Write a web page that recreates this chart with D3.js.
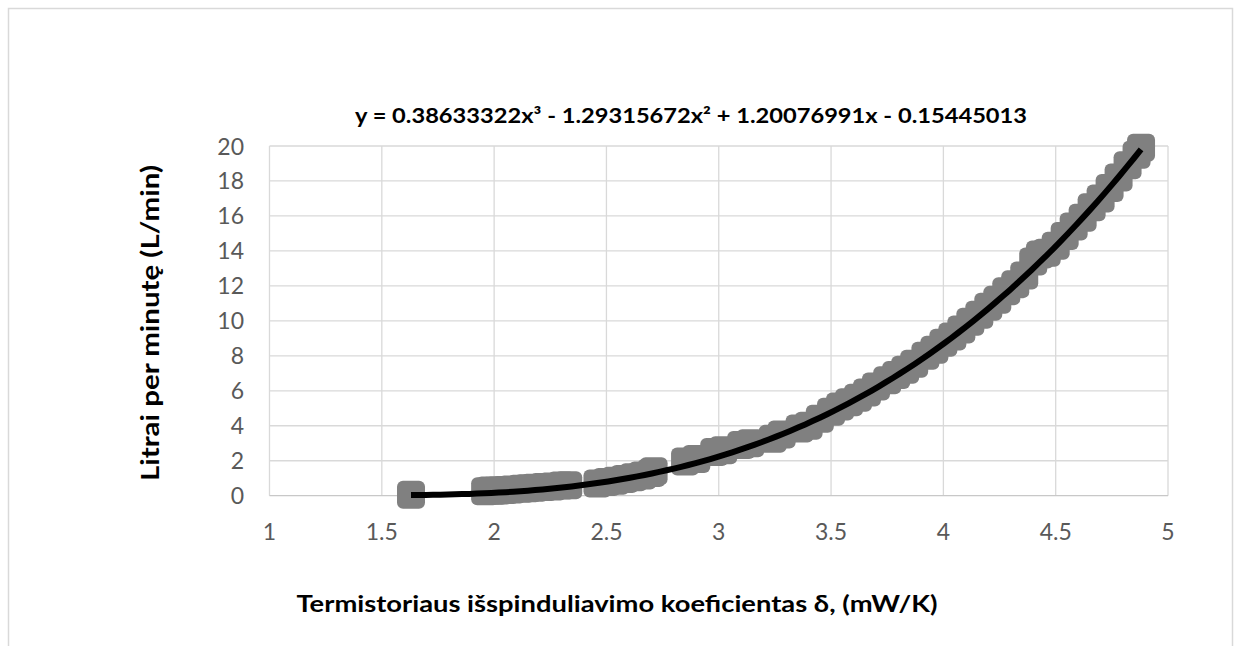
<!DOCTYPE html>
<html><head><meta charset="utf-8">
<script src="https://cdn.jsdelivr.net/npm/d3@7"></script>
<style>
html,body{margin:0;padding:0;background:#fff;}
svg{display:block;font-family:Lato,"Open Sans",sans-serif;}
</style></head>
<body><svg id="c" width="1240" height="646"></svg>
<script>
const xValues = [1.63,1.96,1.98,2.00,2.02,2.05,2.08,2.12,2.15,2.18,2.22,2.26,2.30,2.33,
 2.46,2.50,2.54,2.58,2.62,2.66,2.70,2.71,2.85,2.90,2.98,3.02,3.10,3.14,3.24,3.28,3.36,3.40,
 3.45,3.50,3.54,3.58,3.62,3.66,3.70,3.75,3.79,3.83,3.87,3.92,3.96,4.00,4.04,4.08,4.12,4.16,
 4.20,4.24,4.28,4.32,4.36,4.40,4.43,4.46,4.50,4.54,4.58,4.62,4.66,4.70,4.74,4.78,4.82,4.86,4.88];
const yValues = [0.05,0.25,0.3,0.28,0.3,0.32,0.35,0.4,0.42,0.45,0.5,0.52,0.58,0.6,
 0.7,0.78,0.85,0.95,1.05,1.15,1.3,1.4,1.95,2.1,2.5,2.6,2.9,3.0,3.25,3.5,3.85,4.0,
 4.4,4.8,5.1,5.35,5.6,5.9,6.25,6.6,6.9,7.2,7.55,8.0,8.35,8.75,9.1,9.5,9.95,10.35,
 10.8,11.2,11.7,12.1,12.6,13.4,13.8,13.9,14.3,14.85,15.4,15.9,16.5,17.0,17.6,18.2,18.9,19.5,19.9];
// trendline coefficients as shown in the chart: a3, a2, a1, a0
const trendCoefficients = [0.38633322, -1.29315672, 1.20076991, -0.15445013];
const xTicks = [1,1.5,2,2.5,3,3.5,4,4.5,5];
const yTicks = [0,2,4,6,8,10,12,14,16,18,20];
const titleText = "y = 0.38633322x³ - 1.29315672x² + 1.20076991x - 0.15445013";
const xTitle = "Termistoriaus išspinduliavimo koeficientas δ, (mW/K)";
const yTitle = "Litrai per minutę (L/min)";

const svg = d3.select("#c");
svg.append("rect").attr("x",8.5).attr("y",8.5).attr("width",1224).attr("height",700)
  .attr("fill","#fff").attr("stroke","#d9d9d9").attr("stroke-width",1.5);

const x = d3.scaleLinear().domain([1,5]).range([269.5,1168]);
const y = d3.scaleLinear().domain([0,20]).range([495.7,146]);

const g = svg.append("g");
// gridlines
g.selectAll("line.v").data(xTicks).join("line").attr("class","v")
  .attr("x1",d=>x(d)).attr("x2",d=>x(d)).attr("y1",y(0)).attr("y2",y(20))
  .attr("stroke","#d9d9d9").attr("stroke-width",1.3);
g.selectAll("line.h").data(yTicks).join("line").attr("class","h")
  .attr("x1",x(1)).attr("x2",x(5)).attr("y1",d=>y(d)).attr("y2",d=>y(d))
  .attr("stroke",d=>d===0?"#c8c8c8":"#d9d9d9").attr("stroke-width",1.3);

// tick labels
g.selectAll("text.yt").data(yTicks).join("text").attr("class","yt")
  .attr("x",244).attr("y",d=>y(d)+8.5).attr("text-anchor","end")
  .attr("fill","#595959").attr("font-size",23).text(d=>d);
g.selectAll("text.xt").data(xTicks).join("text").attr("class","xt")
  .attr("x",d=>x(d)).attr("y",540).attr("text-anchor","middle")
  .attr("fill","#595959").attr("font-size",23).text(d=>d);

// markers
const pts = xValues.map((v,i)=>[v,yValues[i]]);
const ms = 28;
g.selectAll("rect.m").data(pts).join("rect").attr("class","m")
  .attr("x",d=>x(d[0])-ms/2).attr("y",d=>y(d[1])-ms/2).attr("width",ms).attr("height",ms)
  .attr("rx",6).attr("ry",6).attr("fill","#808080");

// trendline
const poly = t => ((trendCoefficients[0]*t + trendCoefficients[1])*t + trendCoefficients[2])*t + trendCoefficients[3];
const tx = d3.range(0,101).map(i => xValues[0] + (xValues[xValues.length-1]-xValues[0])*i/100);
g.append("path").datum(tx)
  .attr("d", d3.line().x(t=>x(t)).y(t=>y(poly(t))))
  .attr("fill","none").attr("stroke","#000").attr("stroke-width",6).attr("stroke-linecap","butt");

// titles
svg.append("text").attr("x",691).attr("y",123).attr("text-anchor","middle")
  .attr("font-weight","bold").attr("font-size",21).attr("fill","#000")
  .attr("textLength",672).attr("lengthAdjust","spacingAndGlyphs").text(titleText);
svg.append("text").attr("x",617).attr("y",612).attr("text-anchor","middle")
  .attr("font-weight","bold").attr("font-size",22).attr("fill","#000")
  .attr("textLength",641).attr("lengthAdjust","spacingAndGlyphs").text(xTitle);
svg.append("text").attr("transform","translate(159,323) rotate(-90)").attr("text-anchor","middle")
  .attr("font-weight","bold").attr("font-size",24).attr("fill","#000")
  .attr("textLength",316).attr("lengthAdjust","spacingAndGlyphs").text(yTitle);
</script></body></html>
